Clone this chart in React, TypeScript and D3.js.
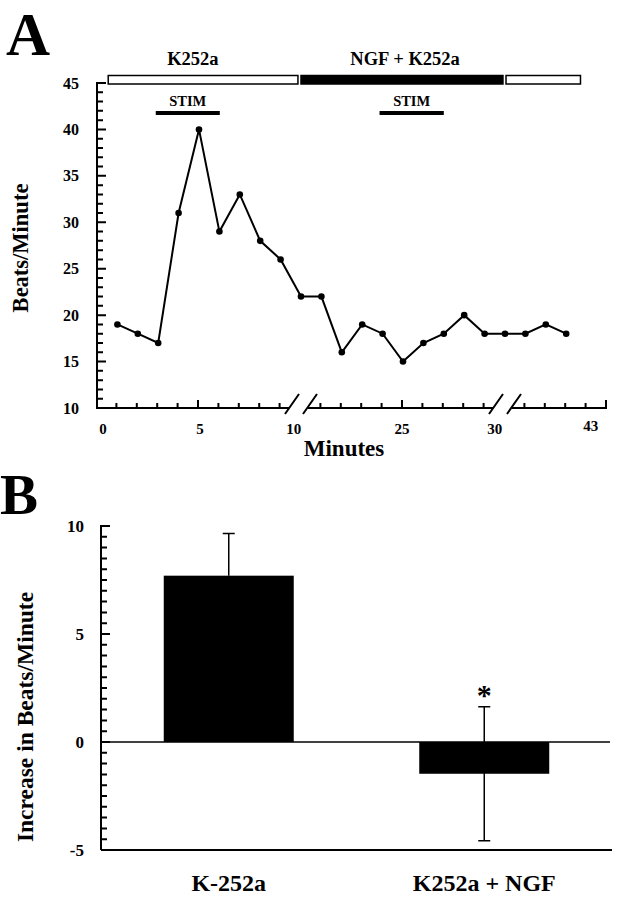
import React from "react";
import * as d3 from "d3";

// ---------- Panel A data ----------
const sampleIndex = [1, 2, 3, 4, 5, 6, 7, 8, 9, 10, 11, 12, 13, 14, 15, 16, 17, 18, 19, 20, 21, 22, 23];
const beatsPerMinute = [19, 18, 17, 31, 40, 29, 33, 28, 26, 22, 22, 16, 19, 18, 15, 17, 18, 20, 18, 18, 18, 19, 18];
const xTickLabels = ["0", "5", "10", "25", "30", "43"];
const xTickLabelIndex = [0.3, 5.05, 9.65, 14.95, 19.5, 24.2];
const majorXTickIndex = [5, 15, 25];
const breakIndex = [10, 20];
const treatmentStart = [0.55, 10, 20.05];
const treatmentEnd = [9.85, 19.9, 23.7];
const treatmentFilled = [false, true, false];
const treatmentLabels = ["K252a", "NGF + K252a"];
const treatmentLabelIndex = [4.7, 15.1];
const stimStart = [2.88, 13.85];
const stimEnd = [6.02, 17.0];
const yTicksA = ["10", "15", "20", "25", "30", "35", "40", "45"];

// ---------- Panel B data ----------
const groups = ["K-252a", "K252a + NGF"];
const meanIncrease = [7.7, -1.47];
const semIncrease = [1.95, 3.1];
const significant = [false, true];
const yTicksB = ["-5", "0", "5", "10"];

const FONT = "'Liberation Serif', 'Times New Roman', serif";

export default function App() {
  // Panel A scales
  const xA = d3.scaleLinear().domain([0, 25]).range([97, 607]);
  const yA = d3.scaleLinear().domain([10, 45]).range([408, 83]);
  const lineGen = d3
    .line<number>()
    .x((_, i) => xA(sampleIndex[i]))
    .y((d) => yA(d));

  const minorX = d3.range(1, 26).filter((i) => !breakIndex.includes(i));
  const yTickValsA = d3.range(10, 46);

  // tick paths
  const yTickPathA = d3.path();
  yTickValsA.forEach((v) => {
    yTickPathA.moveTo(97, yA(v));
    yTickPathA.lineTo(97 + (v % 5 === 0 ? 9 : 6), yA(v));
  });
  const xTickPathA = d3.path();
  minorX.forEach((i) => {
    xTickPathA.moveTo(xA(i) - 1, 408);
    xTickPathA.lineTo(xA(i) - 1, 408 - (majorXTickIndex.includes(i) ? 8 : 5));
  });

  // axis segments with gaps at breaks
  const axisPathA = d3.path();
  let start = xA(0);
  breakIndex.forEach((b) => {
    axisPathA.moveTo(start, 408);
    axisPathA.lineTo(xA(b) - 12, 408);
    start = xA(b) + 7;
  });
  axisPathA.moveTo(start, 408);
  axisPathA.lineTo(xA(25), 408);

  const breakPath = d3.path();
  breakIndex.forEach((b) => {
    breakPath.moveTo(xA(b) - 16, 414);
    breakPath.lineTo(xA(b) - 2, 394);
    breakPath.moveTo(xA(b) + 2, 414);
    breakPath.lineTo(xA(b) + 16, 394);
  });

  // Panel B scales
  const xB = d3.scalePoint<string>().domain(groups).range([101, 612]).padding(0.5);
  const yB = d3.scaleLinear().domain([-5, 10]).range([850, 526]);
  const barW = 130;
  const yTickValsB = d3.range(-5, 10.01, 0.5);
  const yTickPathB = d3.path();
  yTickValsB.forEach((v) => {
    yTickPathB.moveTo(101, yB(v));
    yTickPathB.lineTo(101 + (v % 5 === 0 ? 9 : 6), yB(v));
  });

  return (
    <svg
      width={620}
      height={899}
      style={{ position: "absolute", left: 0, top: 0, background: "#fff" }}
      fontFamily={FONT}
      fontWeight="bold"
    >
      <rect x={0} y={0} width={620} height={899} fill="#fff" />
      {/* ===== Panel A ===== */}
      <text x={6} y={55} fontSize={61}>A</text>

      {/* treatment bars */}
      {treatmentStart.map((s, i) => (
        <rect
          key={"tr" + i}
          x={xA(s)}
          y={75.5}
          width={xA(treatmentEnd[i]) - xA(s)}
          height={8.5}
          fill={treatmentFilled[i] ? "#000" : "#fff"}
          stroke="#000"
          strokeWidth={1.5}
        />
      ))}
      {treatmentLabels.map((t, i) => (
        <text key={"tl" + i} x={xA(treatmentLabelIndex[i])} y={65} fontSize={18.5} textAnchor="middle">
          {t}
        </text>
      ))}
      {/* STIM bars */}
      {stimStart.map((s, i) => (
        <g key={"st" + i}>
          <rect x={xA(s)} y={111} width={xA(stimEnd[i]) - xA(s)} height={4} fill="#000" />
          <text x={(xA(s) + xA(stimEnd[i])) / 2} y={106} fontSize={14.5} textAnchor="middle">
            STIM
          </text>
        </g>
      ))}

      {/* y axis A */}
      <path d={`M97,${yA(45) - 1}V${yA(10) + 1}`} stroke="#000" strokeWidth={2} fill="none" />
      <path d={yTickPathA.toString()} stroke="#000" strokeWidth={2} fill="none" />
      {yTicksA.map((t) => (
        <text key={"ytla" + t} x={79} y={yA(+t) + 5.5} fontSize={16} textAnchor="end">
          {t}
        </text>
      ))}
      <text transform="translate(28,248) rotate(-90)" fontSize={22.5} textAnchor="middle">
        Beats/Minute
      </text>

      {/* x axis A */}
      <path d={axisPathA.toString()} stroke="#000" strokeWidth={2} fill="none" />
      <path d={xTickPathA.toString()} stroke="#000" strokeWidth={2} fill="none" />
      <path d={breakPath.toString()} stroke="#000" strokeWidth={2} fill="none" />
      {xTickLabels.map((t, i) => (
        <text
          key={"xtl" + t}
          x={xA(xTickLabelIndex[i])}
          y={i === 5 ? 431 : 434}
          fontSize={15}
          textAnchor="middle"
        >
          {t}
        </text>
      ))}
      <text x={344} y={456} fontSize={23} textAnchor="middle">Minutes</text>

      {/* line + points */}
      <path d={lineGen(beatsPerMinute) || ""} fill="none" stroke="#000" strokeWidth={2} />
      {beatsPerMinute.map((v, i) => (
        <circle key={"pt" + i} cx={xA(sampleIndex[i])} cy={yA(v)} r={3.3} fill="#000" />
      ))}

      {/* ===== Panel B ===== */}
      <text x={0} y={514} fontSize={57}>B</text>

      {groups.map((g, i) => {
        const cx = xB(g) as number;
        const v = meanIncrease[i];
        const hi = yB(v + semIncrease[i]);
        const lo = yB(v - semIncrease[i]);
        return (
          <g key={"bar" + g}>
            <rect
              x={cx - barW / 2}
              y={Math.min(yB(v), yB(0))}
              width={barW}
              height={Math.abs(yB(v) - yB(0))}
              fill="#000"
            />
            <path
              d={
                v > 0
                  ? `M${cx},${yB(v)}V${hi}M${cx - 6},${hi}H${cx + 6}`
                  : `M${cx},${lo}V${hi}M${cx - 6},${hi}H${cx + 6}M${cx - 6},${lo}H${cx + 6}`
              }
              stroke="#000"
              strokeWidth={1.5}
              fill="none"
            />
            {significant[i] && (
              <text x={cx} y={hi - 2} fontSize={30} textAnchor="middle">
                *
              </text>
            )}
            <text x={cx} y={891} fontSize={24} textAnchor="middle">
              {g}
            </text>
          </g>
        );
      })}

      {/* zero line and axes */}
      <path d={`M101,${yB(0)}H610`} stroke="#000" strokeWidth={1.5} fill="none" />
      <path d={`M101,${yB(-5)}H612`} stroke="#000" strokeWidth={2} fill="none" />
      <path d={`M101,${yB(10) - 1}V${yB(-5)}`} stroke="#000" strokeWidth={2} fill="none" />
      <path d={yTickPathB.toString()} stroke="#000" strokeWidth={2} fill="none" />
      {yTicksB.map((t) => (
        <text key={"ytlb" + t} x={84} y={yB(+t) + 6} fontSize={17} textAnchor="end">
          {t}
        </text>
      ))}
      <text transform="translate(33,717) rotate(-90)" fontSize={23.5} textAnchor="middle">
        Increase  in  Beats/Minute
      </text>
    </svg>
  );
}
